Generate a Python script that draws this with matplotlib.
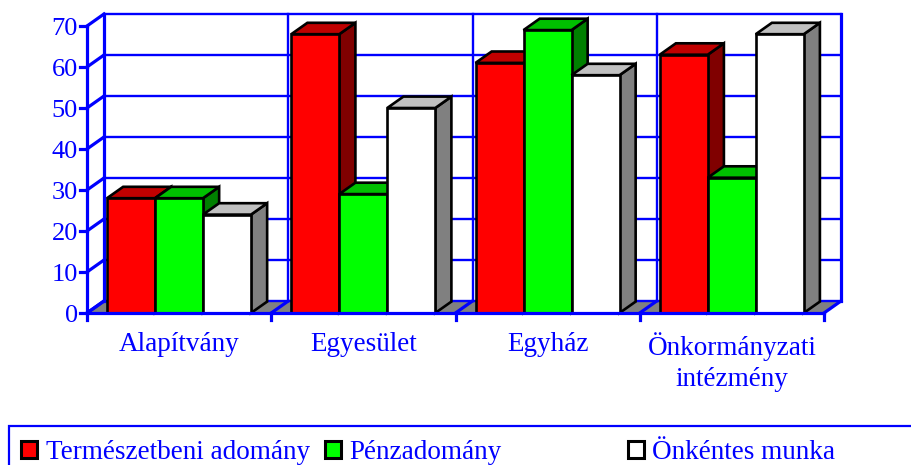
import matplotlib
matplotlib.use("Agg")
import matplotlib.pyplot as plt
from matplotlib.patches import Polygon, Rectangle

categories = ["Alapítvány", "Egyesület", "Egyház", "Önkormányzati\nintézmény"]
series_names = ["Természetbeni adomány", "Pénzadomány", "Önkéntes munka"]
termeszetbeni = [28, 68, 61, 63]
penzadomany = [28, 29, 69, 33]
onkentes = [24, 50, 58, 68]
yticks = [0, 10, 20, 30, 40, 50, 60, 70]

BLUE = "#0000ff"
front_colors = ["#ff0000", "#00ff00", "#ffffff"]
top_colors = ["#c00000", "#00c000", "#c0c0c0"]
side_colors = ["#800000", "#008000", "#808080"]

W, H = 911, 465
CAT_PX = 184.25
UNIT_PX = 4.1
X0, Y0 = 87, 313
DX = 17 / CAT_PX      # 3d depth in category units
DY = 12 / UNIT_PX     # 3d depth in value units
BAR = 48 / CAT_PX
GAP = 20 / CAT_PX

plt.rcParams["font.family"] = ["Liberation Serif", "DejaVu Serif"]

fig = plt.figure(figsize=(W / 100, H / 100), dpi=100)
ax = fig.add_axes([0, 0, 1, 1])
ax.set_xlim(-X0 / CAT_PX, (W - X0) / CAT_PX)
ax.set_ylim((Y0 - H) / UNIT_PX, Y0 / UNIT_PX)
ax.axis("off")

n = len(categories)
ymax = yticks[-1]

# floor
ax.add_patch(Polygon([(0, 0), (n, 0), (n + DX, DY), (DX, DY)], fc="#808080", ec="none", zorder=1))

# walls and grid
grid = dict(color=BLUE, lw=1.7, zorder=2, solid_capstyle="projecting")
axis = dict(color=BLUE, lw=2.3, zorder=2, solid_capstyle="projecting")
for v in yticks:
    ax.plot([DX, n + DX], [v + DY, v + DY], **grid)
    ax.plot([0, DX], [v, v + DY], **axis)
    ax.plot([-7 / CAT_PX, 0], [v, v], **axis)
    ax.text(-9 / CAT_PX, v, str(v), color=BLUE, fontsize=19, ha="right", va="center_baseline")
for i in range(n + 1):
    ax.plot([i + DX, i + DX], [DY, ymax + DY], **(axis if i in (0, n) else grid))
    ax.plot([i, i + DX], [0, DY], **axis)
    ax.plot([i, i], [-7 / UNIT_PX, 0], **axis)
ax.plot([0, 0], [0, ymax], **axis)
ax.plot([0, n], [0, 0], color=BLUE, lw=2.3, zorder=6, solid_capstyle="projecting")

# bars, painted left to right so each front hides the previous side
for s, vals in enumerate([termeszetbeni, penzadomany, onkentes]):
    for i, v in enumerate(vals):
        l = i + GAP + s * BAR
        r = l + BAR
        edge = dict(ec="black", lw=1.9, joinstyle="miter", zorder=3 + i * 0.1 + s * 0.01)
        ax.add_patch(Polygon([(r, 0), (r + DX * 0.95, DY * 0.95), (r + DX * 0.95, v + DY * 0.95), (r, v)],
                             fc=side_colors[s], **edge))
        ax.add_patch(Polygon([(l, v), (r, v), (r + DX * 0.95, v + DY * 0.95), (l + DX * 0.95, v + DY * 0.95)],
                             fc=top_colors[s], **edge))
        ax.add_patch(Rectangle((l, 0), BAR, v, fc=front_colors[s], **edge))

# category labels
for i, name in enumerate(categories):
    ax.text(i + 0.5, -19 / UNIT_PX, name, color=BLUE, fontsize=19.5, ha="center", va="top", linespacing=1.3)


# legend is clipped by the right and bottom picture edges
def fx(px):
    return px / W


def fy(py):
    return 1 - py / H


fig.add_artist(Rectangle((fx(8.5), fy(475)), fx(930), 49 / H, transform=fig.transFigure,
                         fc="white", ec=BLUE, lw=1.6))
swatch_x = [21, 325, 628]
text_x = [46, 349, 652]
for s, name in enumerate(series_names):
    fig.add_artist(Rectangle((fx(swatch_x[s]), fy(458)), 16 / W, 17 / H, transform=fig.transFigure,
                             fc=front_colors[s], ec="black", lw=2.2))
    fig.text(fx(text_x[s]), fy(449), name, color=BLUE, fontsize=19.5, ha="left", va="center_baseline")

fig.savefig("out.png", dpi=100)
plt.close(fig)
